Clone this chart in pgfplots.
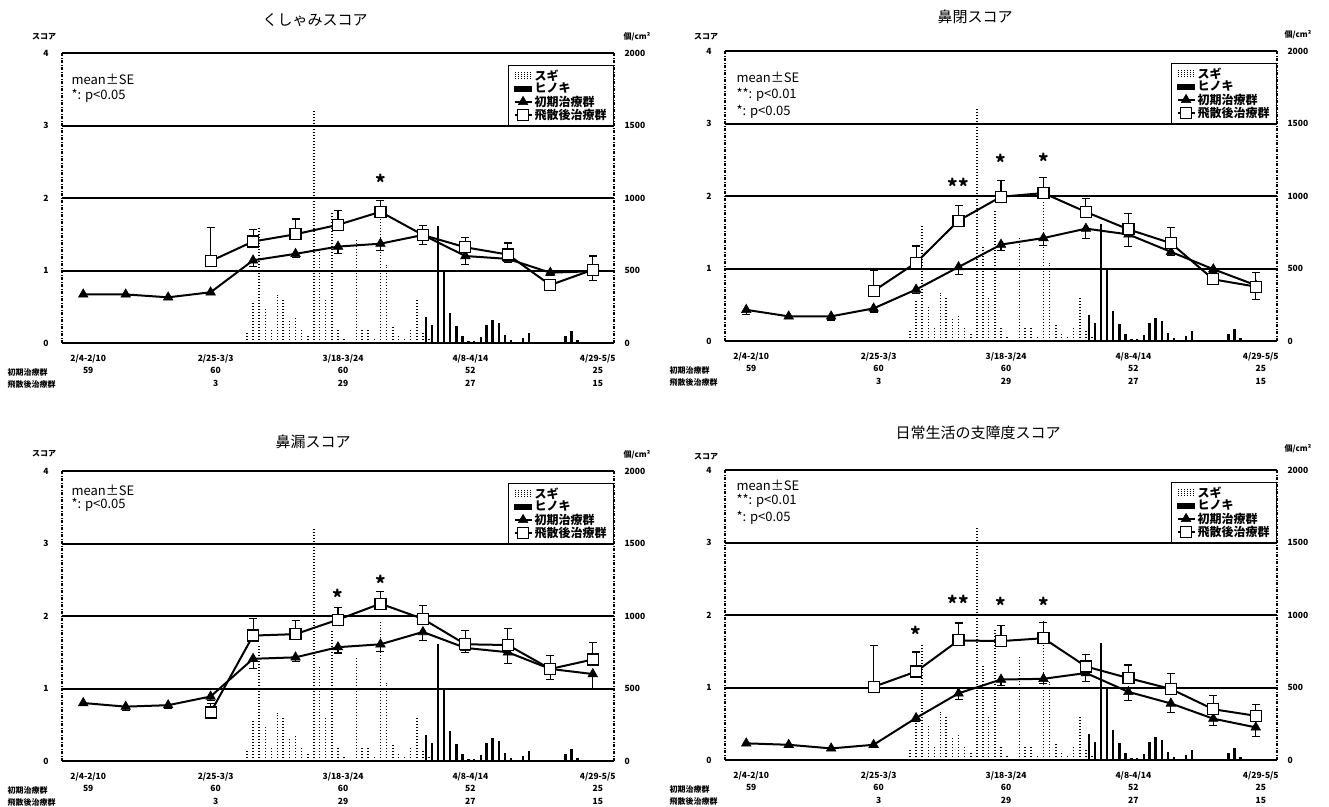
\documentclass[border=0pt]{standalone}
\usepackage{fontspec}
\setmainfont{Noto Sans CJK JP}
\usepackage{pgfplots}
\pgfplotsset{compat=1.18}
\usepackage{pgfplotstable}

\pgfplotstableread{
x y
3.86 69
4.00 287
4.14 793
4.29 241
4.43 92
4.57 333
4.71 310
4.86 161
5.00 172
5.14 92
5.29 60
5.43 1600
5.57 655
5.71 300
5.86 900
6.00 90
6.14 25
6.29 15
6.43 720
6.57 92
6.71 100
6.86 40
7.00 970
7.14 540
7.29 115
7.43 60
7.57 30
7.71 92
7.86 305
8.00 69
8.14 40
}\sugi

\pgfplotstableread{
x y
8.07 182
8.21 124
8.36 805
8.50 506
8.64 207
8.79 120
8.93 50
9.07 12
9.21 15
9.36 40
9.50 126
9.64 161
9.79 140
9.93 57
10.07 23
10.21 10
10.36 35
10.50 69
10.64 10
10.79 8
10.93 8
11.07 5
11.21 10
11.36 46
11.50 80
11.64 23
11.79 10
11.93 5
12.07 5
12.21 3
}\hinoki

% --- くしゃみ
\pgfplotstableread{
x y e
0 0.67 0.03
1 0.67 0.03
2 0.63 0.03
3 0.70 0.03
4 1.14 0.08
5 1.23 0.05
6 1.33 0.09
7 1.37 0.10
8 1.49 0.13
9 1.20 0.12
10 1.16 0.05
11 0.97 0.04
12 0.99 0.13
}\triA
\pgfplotstableread{
x y e
3 1.13 0.46
4 1.40 0.16
5 1.50 0.21
6 1.63 0.20
7 1.81 0.15
8 1.49 0.13
9 1.32 0.13
10 1.22 0.16
11 0.80 0.03
12 1.01 0.19
}\sqA
% --- 鼻閉
\pgfplotstableread{
x y e
0 0.43 0.06
1 0.34 0.03
2 0.34 0.05
3 0.45 0.05
4 0.71 0.05
5 1.02 0.10
6 1.33 0.08
7 1.42 0.10
8 1.55 0.14
9 1.47 0.17
10 1.23 0.05
11 0.99 0.05
12 0.77 0.20
}\triB
\pgfplotstableread{
x y e
3 0.69 0.28
4 1.08 0.23
5 1.66 0.21
6 1.99 0.22
7 2.04 0.21
8 1.78 0.19
9 1.54 0.22
10 1.35 0.22
11 0.85 0.03
12 0.75 0.20
}\sqB
% --- 鼻漏
\pgfplotstableread{
x y e
0 0.80 0.04
1 0.75 0.05
2 0.77 0.04
3 0.89 0.06
4 1.41 0.13
5 1.43 0.06
6 1.57 0.08
7 1.61 0.10
8 1.78 0.12
9 1.56 0.06
10 1.50 0.16
11 1.27 0.15
12 1.20 0.20
}\triC
\pgfplotstableread{
x y e
3 0.67 0.12
4 1.73 0.24
5 1.75 0.19
6 1.95 0.17
7 2.17 0.17
8 1.96 0.18
9 1.61 0.19
10 1.60 0.23
11 1.27 0.19
12 1.40 0.24
}\sqC
% --- 日常生活の支障度
\pgfplotstableread{
x y e
0 0.23 0.03
1 0.21 0.03
2 0.16 0.03
3 0.21 0.03
4 0.58 0.05
5 0.92 0.08
6 1.11 0.08
7 1.12 0.07
8 1.20 0.12
9 0.94 0.12
10 0.78 0.13
11 0.57 0.10
12 0.45 0.12
}\triD
\pgfplotstableread{
x y e
3 1.01 0.57
4 1.22 0.27
5 1.65 0.24
6 1.64 0.22
7 1.68 0.22
8 1.29 0.17
9 1.13 0.18
10 0.98 0.21
11 0.70 0.19
12 0.61 0.16
}\sqD

\newcommand{\ticklab}{\bfseries\fontsize{8.5}{10}\selectfont}
\newcommand{\catlab}{\bfseries\fontsize{8.5}{12.3}\selectfont}
\newcommand{\legfont}{\bfseries\fontsize{12}{12.5}\selectfont}
\newcommand{\titfont}{\fontsize{15}{17}\selectfont}
\newcommand{\notefont}{\fontsize{13}{15}\selectfont}
\newcommand{\smallfont}{\bfseries\fontsize{8}{9}\selectfont}

\pgfplotsset{
  panelbase/.style={scale only axis, width=552pt, height=290pt,
    xmin=-0.5, xmax=12.5, axis line style={-}, tick style={draw=none},
    /pgf/number format/assume math mode=true,
    /pgf/number format/1000 sep={}},
  pollen/.style={panelbase, ymin=0, ymax=2000, ytick={0,500,1000,1500,2000},
    axis x line=none, axis y line*=right,
    y axis line style={black, line width=1.2pt, dash pattern=on 3pt off 1.5pt on 1pt off 1.5pt},
    yticklabel style={font=\ticklab, xshift=7pt}},
  score/.style={panelbase, ymin=0, ymax=4, ytick={0,1,2,3,4},
    axis x line*=bottom, axis y line*=left,
    x axis line style={black, line width=2pt},
    y axis line style={black, line width=1.2pt, dash pattern=on 3pt off 1.5pt on 1pt off 1.5pt},
    ymajorgrids, grid style={black, line width=2pt},
    xtick={0,3,6,9,12},
    xticklabels={{2/4-2/10\\59\\\mbox{}},{2/25-3/3\\60\\3},{3/18-3/24\\60\\29},{4/8-4/14\\52\\27},{4/29-5/5\\25\\15}},
    xticklabel style={font=\catlab, align=center, xshift=5pt, yshift=-8pt},
    yticklabel style={font=\ticklab, xshift=-10pt},
    legend cell align=left,
    legend style={at={(rel axis cs:1,0.75)}, anchor=south east, draw=black,
      line width=0.8pt, fill=white, font=\legfont, inner xsep=5pt, inner ysep=2pt,
      row sep=-2.5pt}},
  tri/.style={black, line width=2pt, mark=triangle*, mark size=5.5pt,
    mark options={solid, fill=black, line width=0.6pt},
    error bars/.cd, y dir=minus, y explicit,
    error bar style={line width=1.1pt, black},
    error mark options={rotate=90, mark size=4pt, line width=1.1pt, black}},
  sq/.style={black, line width=2pt, mark=square*, mark size=5.5pt,
    mark options={solid, fill=white, line width=1.2pt},
    error bars/.cd, y dir=plus, y explicit,
    error bar style={line width=1.1pt, black},
    error mark options={rotate=90, mark size=4pt, line width=1.1pt, black}},
  sugistyle/.style={ycomb, black, line width=1.5pt, dash pattern=on 1.5pt off 1.5pt},
  hinokistyle/.style={ycomb, black, line width=2.3pt}
}

\newcommand{\panel}[5]{%
\begin{axis}[pollen, at={(#1pt,#2pt)}, anchor=south west]
  \addplot[sugistyle] table[x=x,y=y]{\sugi};
  \addplot[hinokistyle] table[x=x,y=y]{\hinoki};
\end{axis}
\begin{axis}[score, at={(#1pt,#2pt)}, anchor=south west]
  \addlegendimage{legend image code/.code={\foreach \i in {1,4,...,16}{\draw[black,line width=0.8pt,dash pattern=on 1pt off 1pt] (\i pt,-3.5pt)--(\i pt,3.5pt);}}}
  \addlegendentry{スギ}
  \addlegendimage{legend image code/.code={\fill[black] (0pt,-2.8pt) rectangle (17pt,2.8pt);}}
  \addlegendentry{ヒノキ}
  \addplot[tri] table[x=x,y=y,y error=e]{#3};
  \addlegendentry{初期治療群}
  \addplot[sq] table[x=x,y=y,y error=e]{#4};
  \addlegendentry{飛散後治療群}
  #5
\end{axis}}

\tikzset{ast/.style={font=\bfseries\fontsize{20}{20}\selectfont, inner sep=0pt}}

\begin{document}
\begin{tikzpicture}
\path[use as bounding box] (0pt,0pt) rectangle (1329pt,-806pt);

% Panel 1
\panel{62}{-343}{\triA}{\sqA}{\node[ast] at (axis cs:7,2.22) {*};}
\node[font=\titfont] at (315pt,-20pt) {くしゃみスコア};
\node[font=\smallfont] at (44pt,-37pt) {スコア};
\node[font=\smallfont] at (637pt,-37pt) {個/cm²};
\node[font=\notefont, anchor=west] at (68pt,-79pt) {mean±SE};
\node[font=\notefont, anchor=west] at (68pt,-96pt) {*: p<0.05};
\node[font=\smallfont, anchor=west] at (4pt,-372pt) {初期治療群};
\node[font=\smallfont, anchor=west] at (4pt,-384pt) {飛散後治療群};

% Panel 2
\panel{725}{-341}{\triB}{\sqB}{\node[ast] at (axis cs:5,2.14) {**};
  \node[ast] at (axis cs:6,2.46) {*};\node[ast] at (axis cs:7,2.48) {*};}
\node[font=\titfont] at (975pt,-17pt) {鼻閉スコア};
\node[font=\smallfont] at (706pt,-37pt) {スコア};
\node[font=\smallfont] at (1298pt,-35pt) {個/cm²};
\node[font=\notefont, anchor=west] at (733pt,-77pt) {mean±SE};
\node[font=\notefont, anchor=west] at (733pt,-95pt) {**: p<0.01};
\node[font=\notefont, anchor=west] at (733pt,-112pt) {*: p<0.05};
\node[font=\smallfont, anchor=west] at (666pt,-370pt) {初期治療群};
\node[font=\smallfont, anchor=west] at (666pt,-382pt) {飛散後治療群};

% Panel 3
\panel{62}{-761}{\triC}{\sqC}{\node[ast] at (axis cs:6,2.26) {*};\node[ast] at (axis cs:7,2.45) {*};}
\node[font=\titfont] at (313pt,-442pt) {鼻漏スコア};
\node[font=\smallfont] at (44pt,-454pt) {スコア};
\node[font=\smallfont] at (637pt,-455pt) {個/cm²};
\node[font=\notefont, anchor=west] at (68pt,-490pt) {mean±SE};
\node[font=\notefont, anchor=west] at (68pt,-505pt) {*: p<0.05};
\node[font=\smallfont, anchor=west] at (4pt,-790pt) {初期治療群};
\node[font=\smallfont, anchor=west] at (4pt,-802pt) {飛散後治療群};

% Panel 4
\panel{725}{-760}{\triD}{\sqD}{\node[ast] at (axis cs:4,1.73) {*};\node[ast] at (axis cs:5,2.16) {**};
  \node[ast] at (axis cs:6,2.14) {*};\node[ast] at (axis cs:7,2.14) {*};}
\node[font=\titfont] at (978pt,-433pt) {日常生活の支障度スコア};
\node[font=\smallfont] at (706pt,-457pt) {スコア};
\node[font=\smallfont] at (1298pt,-449pt) {個/cm²};
\node[font=\notefont, anchor=west] at (733pt,-485pt) {mean±SE};
\node[font=\notefont, anchor=west] at (733pt,-501pt) {**: p<0.01};
\node[font=\notefont, anchor=west] at (733pt,-518pt) {*: p<0.05};
\node[font=\smallfont, anchor=west] at (666pt,-789pt) {初期治療群};
\node[font=\smallfont, anchor=west] at (666pt,-801pt) {飛散後治療群};
\end{tikzpicture}
\end{document}
